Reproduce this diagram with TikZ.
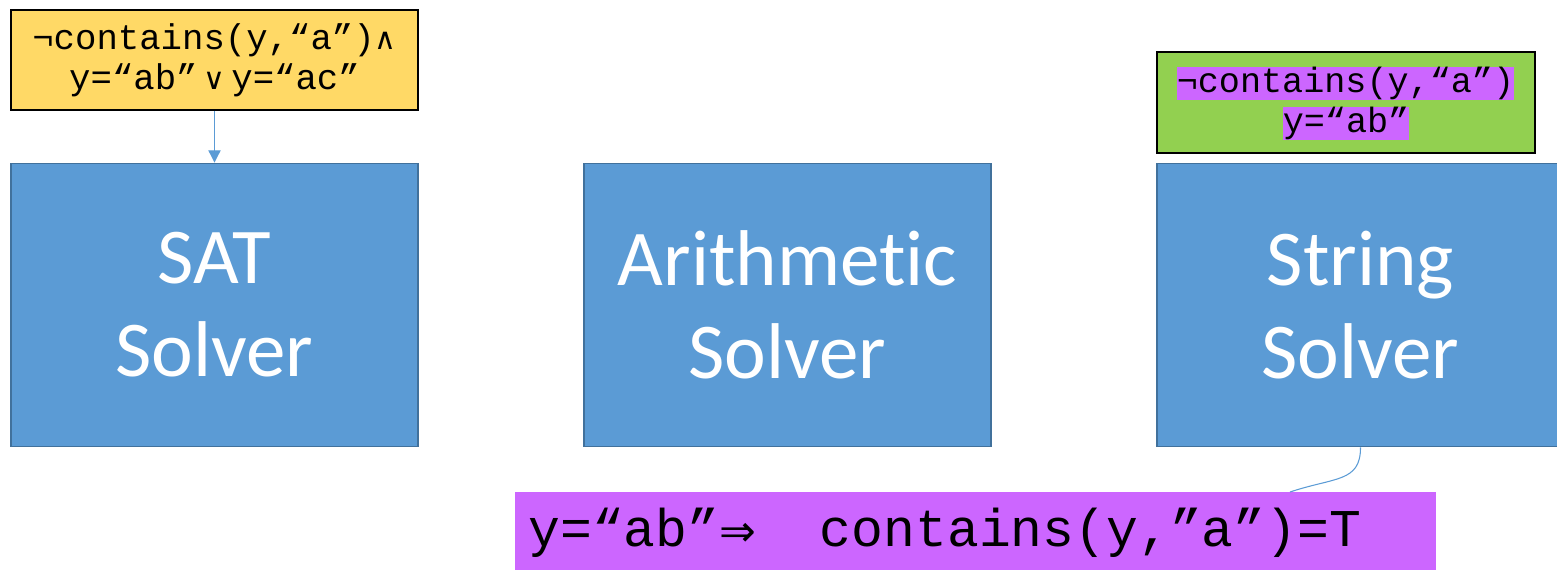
\documentclass[tikz,border=0pt]{standalone}
\usepackage{fontspec}
\setsansfont{Carlito}[RawFeature=-liga]
\setmonofont{Liberation Mono}
\newfontfamily\symfont{DejaVu Sans}
\usetikzlibrary{arrows.meta}
\definecolor{solverblue}{HTML}{5B9BD5}
\definecolor{solveredge}{HTML}{41719C}
\definecolor{goalyellow}{HTML}{FFD966}
\definecolor{modelgreen}{HTML}{92D050}
\definecolor{hilite}{HTML}{CC66FF}
\begin{document}
\begin{tikzpicture}[
  x=0.02cm, y=-0.02cm,
  solver/.style={draw=solveredge, line width=1.1pt, fill=solverblue,
    minimum width=8.14cm, minimum height=5.66cm, text=white,
    font=\sffamily\fontsize{45}{53}\selectfont, align=center},
  formula/.style={draw=black, line width=1pt, align=center,
    font=\ttfamily\fontsize{20.3}{23}\selectfont},
  litmark/.style={fill=hilite, inner sep=0pt, minimum height=0.66cm,
    font=\ttfamily\fontsize{20}{23}\selectfont},
  link/.style={solverblue, line width=0.6pt}]
  \useasboundingbox (0,0) rectangle (1557,570);
  % the three theory solvers
  \node[solver] (sat) at (214.5,305) {SAT\\Solver};
  \node[solver] (arith) at (787.5,305) {Arithmetic\\Solver};
  \node[solver] (string) at (1360.5,305) {String\\Solver};
  % input formula and string model
  \node[formula, fill=goalyellow, minimum width=8.14cm, minimum height=2cm]
    (goal) at (214.5,60) {¬contains(y,“a”){\symfont\fontsize{17}{23}\selectfont∧}\\
    y=“ab”\,{\symfont\fontsize{17}{23}\selectfont∨}\,y=“ac”};
  \node[formula, fill=modelgreen, minimum width=7.56cm, minimum height=2.02cm]
    (model) at (1346,102.5) {};
  \node[litmark, minimum width=6.7cm] (lit1) at (1345.5,83.5) {¬contains(y,“a”)};
  \node[litmark, minimum width=2.52cm] (lit2) at (1346,123.5) {y=“ab”};
  % learned lemma
  \node[fill=hilite, minimum width=18.42cm, minimum height=1.76cm] (lemma) at (975.5,536) {};
  \node[anchor=west, inner sep=0pt, font=\ttfamily\fontsize{30.2}{31}\selectfont]
    (lemmatext) at (528,533) {y=“ab”{\symfont\fontsize{25}{30}\selectfont⇒}\ \ contains(y,”a”)=T};
  \coordinate (touch) at (1290,492);
  \draw[link, -{Triangle[length=7pt, width=7pt]}] (goal) -- (sat);
  \draw[link] (string.south) .. controls +(0,35) and +(45,-15) .. (touch);
\end{tikzpicture}
\end{document}
